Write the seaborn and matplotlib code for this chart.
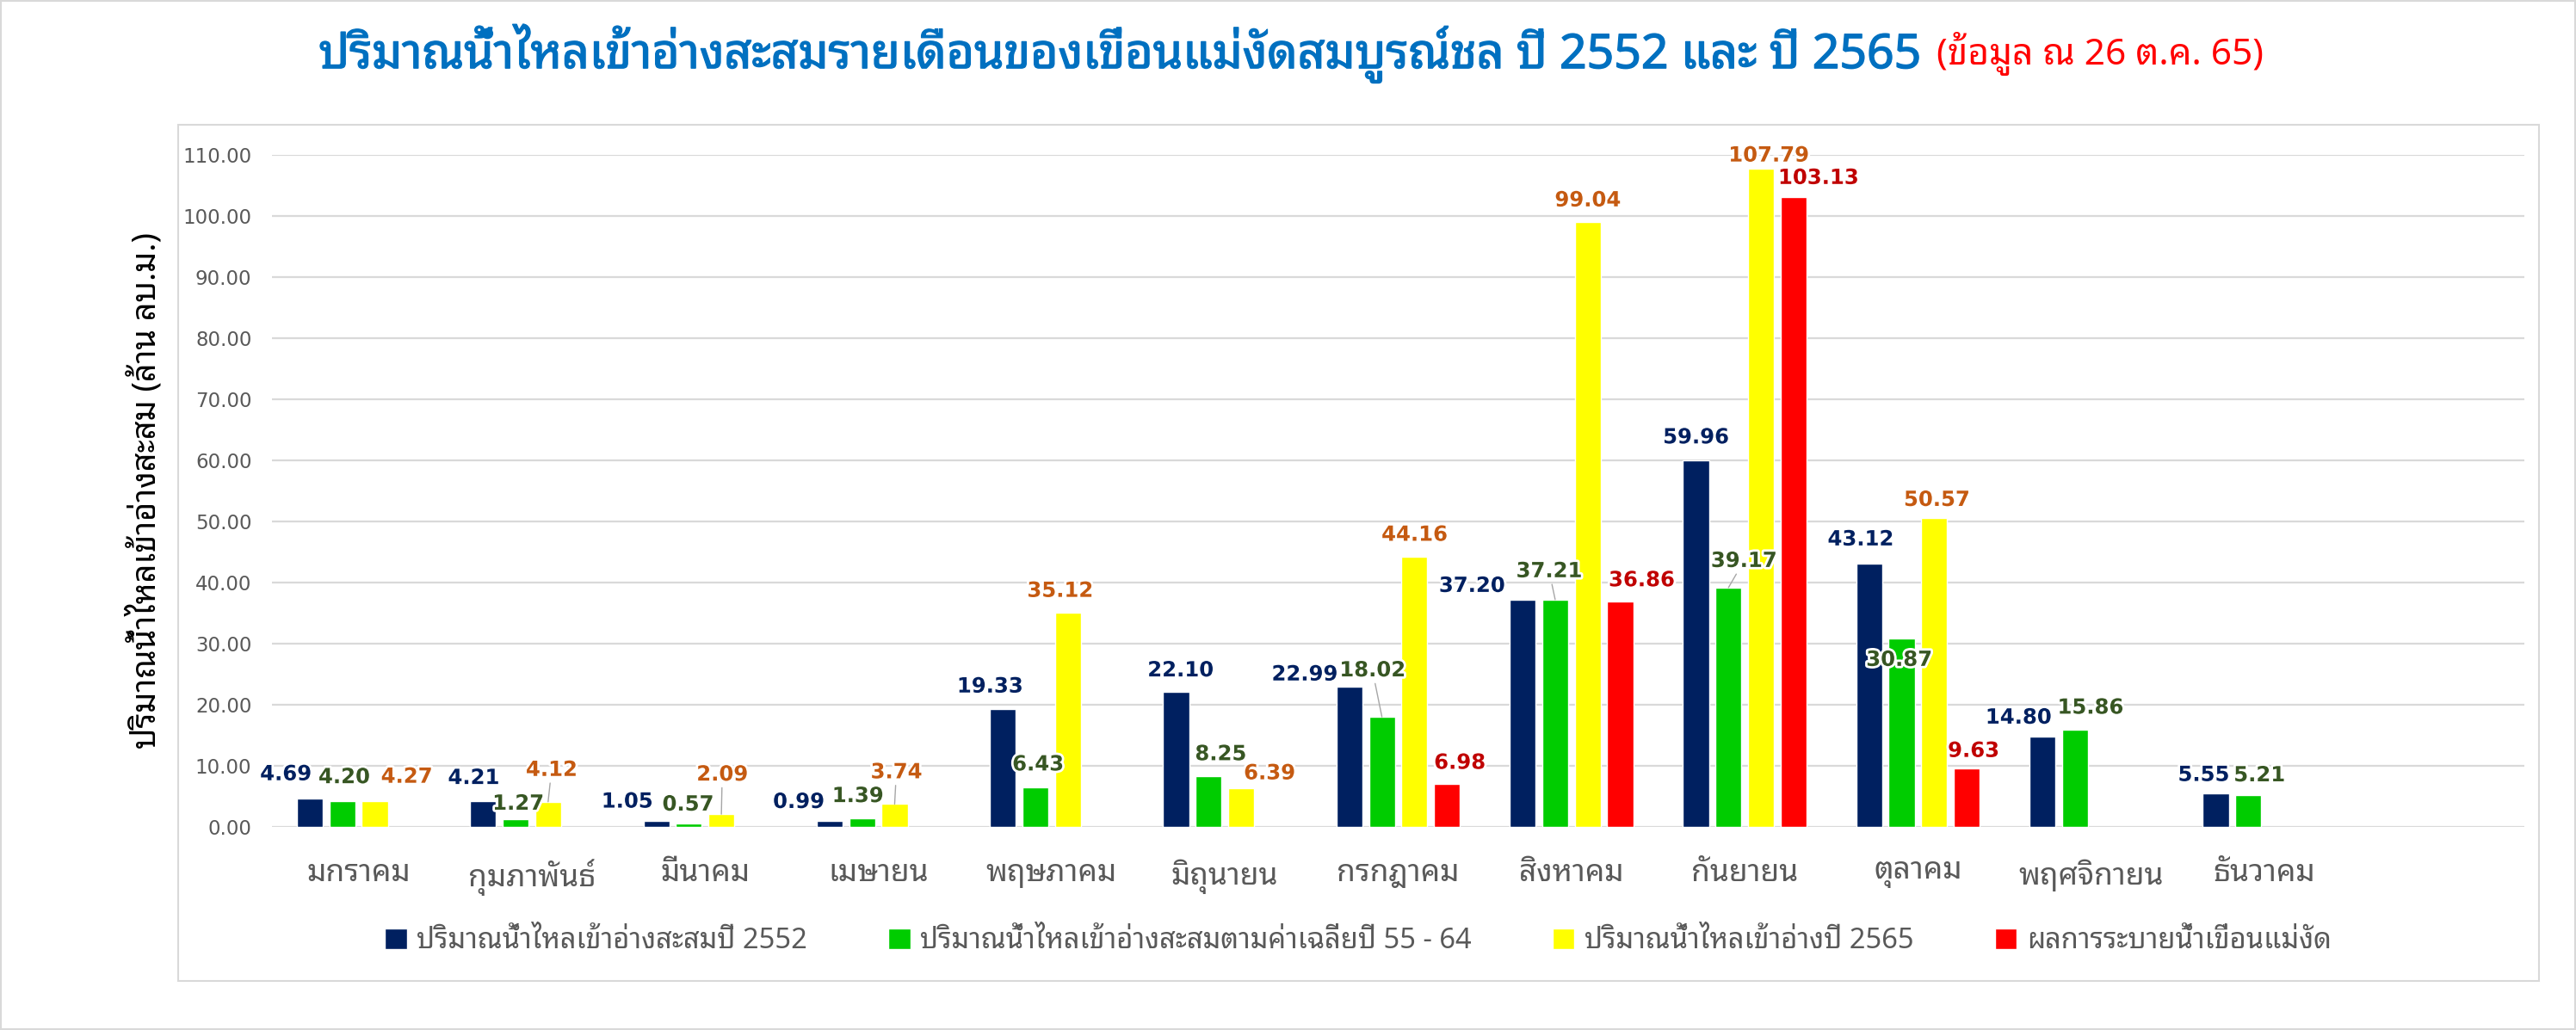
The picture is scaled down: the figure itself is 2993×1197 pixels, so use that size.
import numpy as np
import pandas as pd
import seaborn as sns
import matplotlib.pyplot as plt
import matplotlib.font_manager as fm
import matplotlib.patheffects as pe
from matplotlib import ft2font
from matplotlib.patches import Rectangle
from matplotlib.ticker import FormatStrFormatter


def thai_family():
    # find an installed family that really has Thai glyphs
    names = []
    for f in fm.fontManager.ttflist:
        try:
            if 0x0E21 in ft2font.FT2Font(f.fname).get_charmap():
                names.append(f.name)
        except Exception:
            pass
    for pref in ["Noto Sans Thai Looped", "Noto Looped Thai", "Noto Sans Thai",
                 "Noto Sans Thai UI", "Noto Serif Thai", "Sarabun", "Loma", "Garuda",
                 "Waree", "Tlwg Typo"]:
        if pref in names:
            return pref
    return names[0] if names else "DejaVu Sans"


# === DATA ===
months = ["มกราคม", "กุมภาพันธ์", "มีนาคม", "เมษายน", "พฤษภาคม", "มิถุนายน",
          "กรกฎาคม", "สิงหาคม", "กันยายน", "ตุลาคม", "พฤศจิกายน", "ธันวาคม"]
series = ["ปริมาณน้ำไหลเข้าอ่างสะสมปี 2552",
          "ปริมาณน้ำไหลเข้าอ่างสะสมตามค่าเฉลี่ยปี 55 - 64",
          "ปริมาณน้ำไหลเข้าอ่างปี 2565",
          "ผลการระบายน้ำเขื่อนแม่งัด"]
inflow_2552 = [4.69, 4.21, 1.05, 0.99, 19.33, 22.10, 22.99, 37.20, 59.96, 43.12, 14.80, 5.55]
inflow_avg = [4.20, 1.27, 0.57, 1.39, 6.43, 8.25, 18.02, 37.21, 39.17, 30.87, 15.86, 5.21]
inflow_2565 = [4.27, 4.12, 2.09, 3.74, 35.12, 6.39, 44.16, 99.04, 107.79, 50.57, np.nan, np.nan]
release_2565 = [np.nan, np.nan, np.nan, np.nan, np.nan, np.nan, 6.98, 36.86, 103.13, 9.63,
                np.nan, np.nan]

title_main = "ปริมาณน้ำไหลเข้าอ่างสะสมรายเดือนของเขื่อนแม่งัดสมบูรณ์ชล ปี 2552 และ ปี 2565"
title_note = "(ข้อมูล ณ 26 ต.ค. 65)"
y_label = "ปริมาณน้ำไหลเข้าอ่างสะสม (ล้าน ลบ.ม.)"

# === STYLE ===
bar_colors = ["#002060", "#00CC00", "#FFFF00", "#FF0000"]
label_colors = ["#002060", "#375623", "#C55A11", "#C00000"]

# label centre offsets from bar top, in pixels (dx, dy up)
label_offsets = {
    0: [(-28, 28), (-11, 27), (-34, 22), (-36, 22), (-15, 26), (5, 25),
        (-52, 14), (-59, 16), (0, 27), (-10, 28), (-28, 22), (-14, 21)],
    1: [(2, 28), (3, 18), (-1, 22), (-5, 26), (3, 27), (14, 26),
        (-11, 54), (-7, 33), (18, 31), (-3, -25), (18, 26), (13, 23)],
    2: [(37, 28), (4, 37), (1, 46), (2, 37), (-9, 25), (33, 17),
        (0, 26), (0, 25), (9, 15), (3, 21), (0, 0), (0, 0)],
    3: [(0, 0)] * 6 + [(15, 25), (25, 25), (29, 22), (8, 20), (0, 0), (0, 0)],
}
leaders = {(2, 1), (2, 2), (2, 3), (1, 6), (1, 7), (1, 8)}

df = pd.DataFrame({
    "month": months * 4,
    "series": [s for s in series for _ in months],
    "value": inflow_2552 + inflow_avg + inflow_2565 + release_2565,
})

sns.set_style("white")
thai = thai_family()
plt.rcParams["font.family"] = [thai, "DejaVu Sans"]

W, H = 2993, 1197
fig = plt.figure(figsize=(W / 100, H / 100), dpi=100)
ax = fig.add_axes([316 / W, 1 - 961 / H, (2933 - 316) / W, (961 - 180) / H])

sns.barplot(data=df, x="month", y="value", hue="series", order=months, hue_order=series,
            palette=bar_colors, saturation=1, width=0.75, gap=0.2, errorbar=None, ax=ax)

ax.set_xlim(-0.5, 12.5)
ax.set_ylim(0, 110)
ax.set_yticks(np.arange(0, 111, 10))
ax.yaxis.set_major_formatter(FormatStrFormatter("%.2f"))
ax.yaxis.grid(True, color="#D9D9D9", lw=1.6)
ax.set_axisbelow(True)
for sp in ax.spines.values():
    sp.set_visible(False)
ax.tick_params(axis="both", length=0, colors="#595959")
ax.tick_params(axis="y", labelsize=16.5, pad=17)
ax.tick_params(axis="x", labelsize=25.5, pad=27)
for t in ax.get_yticklabels():
    t.set_fontfamily("DejaVu Sans")
ax.set_xlabel("")
ax.set_ylabel("")

# data labels
for k, cont in enumerate(ax.containers):
    for bar in cont:
        h = bar.get_height()
        if np.isnan(h):
            continue
        xc = bar.get_x() + bar.get_width() / 2
        i = int(round(xc))
        dx, dy = label_offsets[k][i]
        kw = {}
        if (k, i) in leaders:
            kw["arrowprops"] = dict(arrowstyle="-", color="#A6A6A6", lw=1,
                                    shrinkA=0, shrinkB=0)
        ax.annotate(f"{h:.2f}", xy=(xc, h), xytext=(dx, dy), textcoords="offset pixels",
                    ha="center", va="center", fontsize=17.5, fontweight="bold",
                    fontfamily="DejaVu Sans", color=label_colors[k],
                    path_effects=[pe.withStroke(linewidth=4, foreground="white")], **kw)

# legend below the plot
handles, labels = ax.get_legend_handles_labels()
ax.get_legend().remove()
fig.legend(handles, labels, loc="center", bbox_to_anchor=(1578 / W, 1 - 1094 / H), ncol=4,
           frameon=False, fontsize=23.5, labelcolor="#595959", handlelength=0.77,
           handleheight=0.77, handletextpad=0.35, columnspacing=2.9)

# titles
fig.text(2232 / W, 1 - 62 / H, title_main, ha="right", va="center", color="#0070C0",
         fontsize=39.8, fontweight="bold",
         path_effects=[pe.withStroke(linewidth=1.0, foreground="#0070C0")])
fig.text(2250 / W, 1 - 62 / H, title_note, ha="left", va="center", color="#FF0000",
         fontsize=30.5)
fig.text(168 / W, 1 - 570 / H, y_label, rotation=90, ha="center", va="center",
         color="black", fontsize=27.3)

# chart-area frame and outer border
fig.add_artist(Rectangle((207 / W, 1 - 1140 / H), (2950 - 207) / W, (1140 - 145) / H,
                         transform=fig.transFigure, fill=False, ec="#D9D9D9", lw=1.5))
fig.add_artist(Rectangle((0, 0), 1, 1, transform=fig.transFigure, fill=False,
                         ec="#D9D9D9", lw=3))

fig.savefig("out.png", dpi=100)
